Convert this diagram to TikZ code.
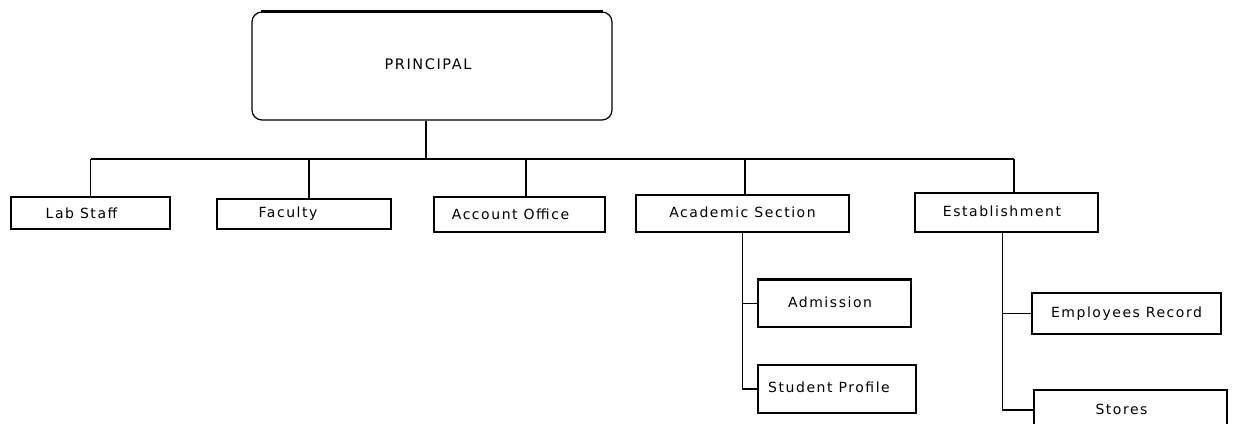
\documentclass[tikz,border=0pt]{standalone}
\usepackage{fontspec}
\setmainfont{DejaVu Sans}[LetterSpace=11]
\usetikzlibrary{positioning}
\tikzstyle{head} = [rectangle, rounded corners=10pt, minimum width=360pt, minimum height=108pt, text centered, draw=black, line width=1.2pt, font=\fontsize{14.5}{17}\selectfont]
\tikzstyle{unit} = [rectangle, text centered, draw=black, line width=1.2pt, inner sep=0pt, font=\fontsize{14}{16}\selectfont]
\tikzstyle{line} = [line width=1.3pt]

\begin{document}
\begin{tikzpicture}[x=1pt, y=-1pt]
\useasboundingbox (0,0) rectangle (1233,423);

% Nodes
\node (principal) [head] at (432,66) {\raisebox{3pt}{PRINCIPAL}\hspace{8pt}\mbox{}};
\node (labstaff) [unit, minimum width=159pt, minimum height=32pt] at (90.5,213) {\raisebox{-3pt}{Lab Staff}\hspace{18pt}\mbox{}};
\node (faculty) [unit, minimum width=174pt, minimum height=30pt] at (304,214) {\raisebox{2pt}{Faculty}\hspace{32pt}\mbox{}};
\node (account) [unit, minimum width=171pt, minimum height=35pt] at (519.5,214.5) {Account Office\hspace{18pt}\mbox{}};
\node (academic) [unit, minimum width=213pt, minimum height=37pt] at (742.5,213.5) {\raisebox{2pt}{Academic Section}};
\node (establish) [unit, minimum width=183pt, minimum height=39pt] at (1006.5,212.5) {\raisebox{2pt}{Establishment}\hspace{9pt}\mbox{}};
\node (admission) [unit, minimum width=153pt, minimum height=47pt] at (834.5,303.5) {\raisebox{2pt}{Admission}\hspace{9pt}\mbox{}};
\node (student) [unit, minimum width=158pt, minimum height=48pt, line width=1.6pt] at (837,389) {\raisebox{4pt}{Student Profile}\hspace{16pt}\mbox{}};
\node (employees) [unit, minimum width=189pt, minimum height=41pt] at (1126.5,313.5) {Employees Record};
\node (stores) [unit, minimum width=193pt, minimum height=40pt] at (1130.5,410) {\raisebox{2pt}{Stores}\hspace{18pt}\mbox{}};

% thick top edges
\draw [line width=2.6pt] ([xshift=10pt]principal.north west) -- ([xshift=-10pt]principal.north east);
\draw [line width=2.6pt] (admission.north west) -- (admission.north east);

% Bus
\coordinate (busl) at (91,159);
\draw [line] ([xshift=-6pt]principal.south) -- ([xshift=-6pt]principal.south |- busl);
\draw [line] (labstaff.north |- busl) -- ([xshift=7.5pt]establish.north |- busl);
\foreach \n/\s in {labstaff/0, faculty/5, account/6.5, academic/2.5, establish/7.5}
  \draw [line] ([xshift=\s pt]\n.north) -- ([xshift=\s pt]\n.north |- busl);

% Sub units
\draw [line] (academic.south) |- (student.west);
\draw [line] (academic.south |- admission.west) -- (admission.west);
\draw [line] ([xshift=-4pt]establish.south) |- (stores.west);
\draw [line] ([xshift=-4pt]establish.south |- employees.west) -- (employees.west);

\end{tikzpicture}
\end{document}
